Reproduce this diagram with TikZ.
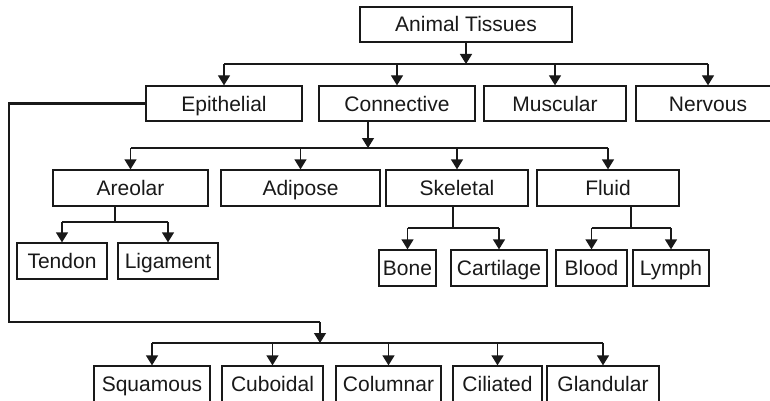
\documentclass[tikz,border=0pt]{standalone}
\usepackage{fontspec}
\setmainfont{Liberation Sans}
\usetikzlibrary{arrows.meta}
\definecolor{ink}{RGB}{25,25,25}
\begin{document}
\begin{tikzpicture}[x=1pt,y=-1pt,
  box/.style={draw=ink, line width=1.3pt, inner sep=0pt, text=ink,
    text height=15pt, text depth=0pt,
    font=\fontsize{21}{24}\selectfont},
  conn/.style={draw=ink, line width=1.3pt},
  arr/.style={conn, -{Triangle[width=12pt,length=10pt]}},
  epiline/.style={draw=ink, line width=2.6pt, line join=miter}]
\clip (0,0) rectangle (770,401);
\fill[white] (0,0) rectangle (770,401);
% level 0
\node[box, minimum width=212pt, minimum height=35pt] (root) at (466,24.5) {Animal Tissues};
% level 1
\node[box, minimum width=156pt, minimum height=35pt] (ep) at (224,103.5) {Epithelial};
\node[box, minimum width=156pt, minimum height=35pt] (co) at (397,103.5) {Connective};
\node[box, minimum width=142pt, minimum height=35pt] (mu) at (555,103.5) {Muscular};
\node[box, minimum width=144pt, minimum height=35pt] (ne) at (708,103.5) {Nervous};
% level 2
\node[box, minimum width=155pt, minimum height=36pt] (ar) at (130.5,188) {Areolar};
\node[box, minimum width=159pt, minimum height=36pt] (ad) at (300.5,188) {Adipose};
\node[box, minimum width=142pt, minimum height=36pt] (sk) at (457,188) {Skeletal};
\node[box, minimum width=142pt, minimum height=36pt] (fl) at (608,188) {Fluid};
% level 3
\node[box, minimum width=90pt, minimum height=36pt] (te) at (62,261) {Tendon};
\node[box, minimum width=100pt, minimum height=36pt] (li) at (168,261) {Ligament};
\node[box, minimum width=57pt, minimum height=36pt] (bo) at (407.5,268) {Bone};
\node[box, minimum width=96pt, minimum height=36pt] (ca) at (499,268) {Cartilage};
\node[box, minimum width=71pt, minimum height=36pt] (bl) at (591.5,268) {Blood};
\node[box, minimum width=76pt, minimum height=36pt] (ly) at (671,268) {Lymph};
% epithelial types
\node[box, minimum width=116pt, minimum height=36pt] (sq) at (152,384) {Squamous};
\node[box, minimum width=101pt, minimum height=36pt] (cu) at (272.5,384) {Cuboidal};
\node[box, minimum width=105pt, minimum height=36pt] (cl) at (388.5,384) {Columnar};
\node[box, minimum width=89pt, minimum height=36pt] (ci) at (497.5,384) {Ciliated};
\node[box, minimum width=112pt, minimum height=36pt] (gl) at (603,384) {Glandular};
% root -> level 1
\coordinate (b1) at (466,64);
\draw[arr] (root.south) -- (b1);
\draw[conn] (ep.north |- b1) -- (ne.north |- b1);
\foreach \n in {ep,co,mu,ne} \draw[arr] (\n.north |- b1) -- (\n.north);
% connective -> level 2
\coordinate (b2) at (368,148);
\draw[arr] ([xshift=-29pt]co.south) -- (b2);
\draw[conn] (ar.north |- b2) -- (fl.north |- b2);
\foreach \n in {ar,ad,sk,fl} \draw[arr] (\n.north |- b2) -- (\n.north);
% areolar
\coordinate (b3) at (115,222);
\draw[conn] ([xshift=-15.5pt]ar.south) -- (b3);
\draw[conn] (te.north |- b3) -- (li.north |- b3);
\foreach \n in {te,li} \draw[arr] (\n.north |- b3) -- (\n.north);
% skeletal
\coordinate (b4) at (453,228);
\draw[conn] ([xshift=-4pt]sk.south) -- (b4);
\draw[conn] (bo.north |- b4) -- (ca.north |- b4);
\foreach \n in {bo,ca} \draw[arr] (\n.north |- b4) -- (\n.north);
% fluid
\coordinate (b5) at (631,228);
\draw[conn] ([xshift=23pt]fl.south) -- (b5);
\draw[conn] (bl.north |- b5) -- (ly.north |- b5);
\foreach \n in {bl,ly} \draw[arr] (\n.north |- b5) -- (\n.north);
% epithelial -> types
\coordinate (e1) at (9,102);
\coordinate (e2) at (9,322);
\coordinate (e3) at (320,322);
\coordinate (b6) at (320,343);
\draw[epiline] (ep.west) -- (ep.west -| e1) -- (e2) -- (e3);
\draw[arr] (e3) -- (b6);
\draw[conn] (sq.north |- b6) -- (gl.north |- b6);
\foreach \n in {sq,cu,cl,ci,gl} \draw[arr] (\n.north |- b6) -- (\n.north);
\end{tikzpicture}
\end{document}
